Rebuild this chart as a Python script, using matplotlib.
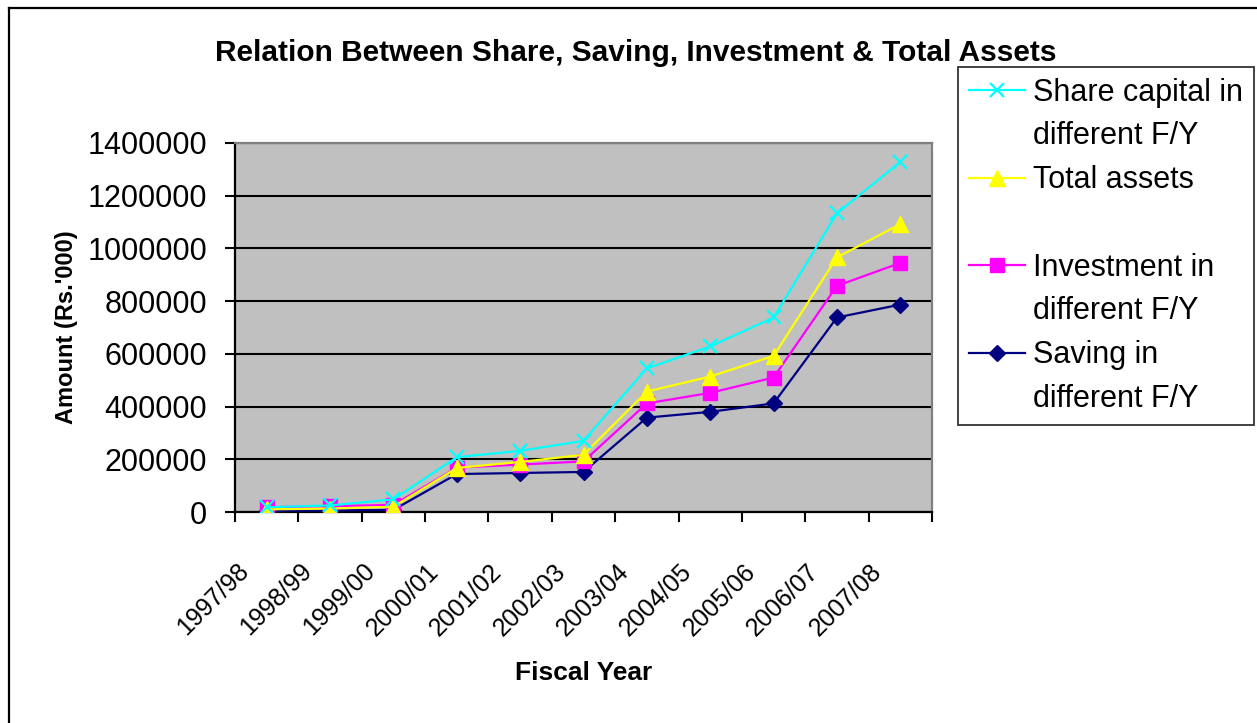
import numpy as np
import matplotlib
matplotlib.use('Agg')
import matplotlib.pyplot as plt
import matplotlib.transforms as mtransforms
from matplotlib.lines import Line2D

plt.rcParams['font.family'] = ['Liberation Sans', 'DejaVu Sans']

# Data (Rs.'000)
years = ['1997/98', '1998/99', '1999/00', '2000/01', '2001/02', '2002/03',
         '2003/04', '2004/05', '2005/06', '2006/07', '2007/08']
share_capital = [18000, 25000, 48000, 208000, 232000, 270000,
                 545000, 628000, 738000, 1133000, 1328000]
total_assets = [10000, 13000, 20000, 167000, 190000, 217000,
                457000, 514000, 592000, 966000, 1092000]
investment = [18000, 22000, 27000, 168000, 180000, 192000,
              412000, 452000, 510000, 858000, 945000]
saving = [4000, 6000, 8000, 144000, 148000, 152000,
          358000, 380000, 412000, 738000, 787000]
y_ticks = np.arange(0, 1400001, 200000)

W, H = 1257, 723
fig = plt.figure(figsize=(W / 100, H / 100), dpi=100)
ax = fig.add_axes([235 / W, 1 - 512 / H, (932 - 235) / W, (512 - 143) / H])
ax.set_facecolor('#C0C0C0')

x = np.arange(len(years))
# drawn bottom-up so share capital sits on top
l_sav, = ax.plot(x, saving, color='#000080', lw=1.6, marker='D', ms=8.5,
                 zorder=3)
l_inv, = ax.plot(x, investment, color='#FF00FF', lw=1.6, marker='s', ms=9.5,
                 zorder=4)
l_tot, = ax.plot(x, total_assets, color='#FFFF00', lw=1.6, marker='^', ms=12,
                 zorder=5)
l_sha, = ax.plot(x, share_capital, color='#00FFFF', lw=1.6, marker='x', ms=10,
                 mew=1.6, zorder=6)

ax.set_xlim(-0.5, len(years) - 0.5)
ax.set_ylim(0, 1400000)
ax.set_yticks(y_ticks)
ax.set_yticklabels([str(v) for v in y_ticks], fontsize=22)
ax.yaxis.grid(True, color='black', lw=1.5)
ax.set_axisbelow(True)
ax.tick_params(axis='y', direction='out', length=7, width=1.5, pad=13)

ax.set_xticks(x)
ax.set_xticklabels(years, fontsize=18, rotation=45, ha='right',
                   va='center', rotation_mode='anchor')
ax.set_xticks(np.arange(len(years) + 1) - 0.5, minor=True)
ax.tick_params(axis='x', which='major', length=0, pad=40)
ax.tick_params(axis='x', which='minor', direction='out', length=7, width=1.5)
# Excel-style placement: label ends a little left of the category centre
shift = mtransforms.ScaledTranslation(-22 / 100, 0, fig.dpi_scale_trans)
for lab in ax.get_xticklabels():
    lab.set_transform(lab.get_transform() + shift)

for s in ['left', 'bottom']:
    ax.spines[s].set_color('black')
    ax.spines[s].set_linewidth(1.6)
for s in ['top', 'right']:
    ax.spines[s].set_color('#808080')
    ax.spines[s].set_linewidth(1.6)

ax.set_ylabel("Amount (Rs.'000)", fontsize=17, fontweight='bold', labelpad=7)
ax.set_xlabel('Fiscal Year', fontsize=19, fontweight='bold', labelpad=15)
fig.text(636 / W, 1 - 53 / H,
         'Relation Between Share, Saving, Investment & Total Assets',
         fontsize=21.5, fontweight='bold', ha='center', va='center')

# outer chart border (left and top visible)
fig.add_artist(Line2D([9 / W, 9 / W], [0, 1 - 8 / H], color='black', lw=1.6,
                      transform=fig.transFigure))
fig.add_artist(Line2D([9 / W, 1], [1 - 8 / H, 1 - 8 / H], color='black',
                      lw=1.6, transform=fig.transFigure))

blank = Line2D([], [], linestyle='none')
handles = [l_sha, blank, l_tot, blank, l_inv, blank, l_sav, blank]
labels = ['Share capital in', 'different F/Y', 'Total assets', ' ',
          'Investment in', 'different F/Y', 'Saving in', 'different F/Y']
leg = fig.legend(handles, labels, loc='upper left',
                 bbox_to_anchor=(958 / W, 1 - 67 / H), fontsize=22,
                 frameon=True, fancybox=False, edgecolor='black',
                 borderpad=0.35, handlelength=1.85, handletextpad=0.25,
                 labelspacing=0.45, borderaxespad=0)
leg.get_frame().set_linewidth(1.3)

fig.savefig('out.png', dpi=100)
